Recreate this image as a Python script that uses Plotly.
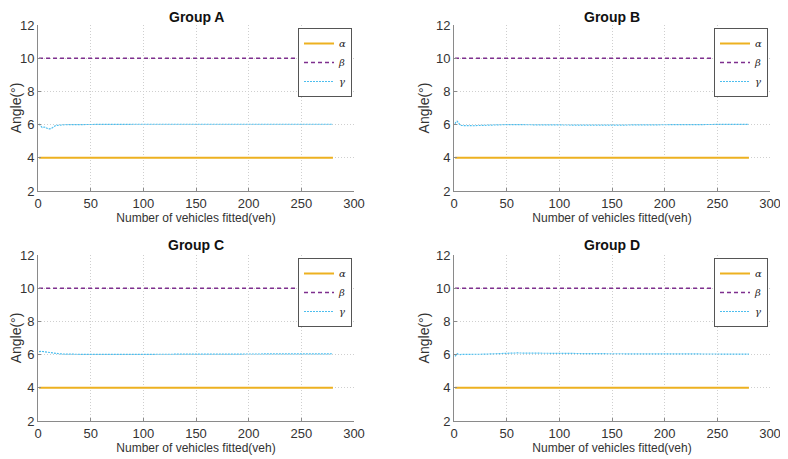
import plotly.graph_objects as go

# ---------------- data ----------------
groups = ["Group A", "Group B", "Group C", "Group D"]
x_const = [1, 280]
alpha_vals = [4, 4]
beta_vals = [10, 10]

x_gamma = [1, 2, 3, 4, 5, 6, 7, 8, 9, 10, 11, 12, 13, 14, 15, 16, 18, 20, 25, 30,
           40, 50, 60, 70, 80, 90, 100, 110, 120, 130, 140, 150, 160, 170, 180,
           190, 200, 210, 220, 230, 240, 250, 260, 270, 280]

gamma_A = [6.05, 5.95, 5.85, 5.82, 5.84, 5.86, 5.85, 5.80, 5.76, 5.74, 5.74, 5.75, 5.78, 5.82, 5.88, 5.92,
           5.95, 5.97, 5.99, 6.00, 6.01, 6.02, 6.02, 6.02, 6.02, 6.02, 6.02, 6.02, 6.03, 6.03,
           6.04, 6.04, 6.04, 6.03, 6.03, 6.04, 6.04, 6.04, 6.04, 6.03, 6.03, 6.03, 6.02, 6.02, 6.02]
gamma_B = [6.05, 6.18, 6.20, 6.12, 6.00, 5.96, 5.95, 5.94, 5.95, 5.94, 5.93, 5.93, 5.94, 5.93, 5.94, 5.94,
           5.93, 5.94, 5.96, 5.97, 5.98, 6.00, 5.99, 5.98, 5.98, 5.98, 5.98, 5.97, 5.97, 5.97,
           5.96, 5.96, 5.97, 5.98, 5.98, 5.99, 6.00, 6.00, 6.01, 6.01, 6.01, 6.01, 6.02, 6.02, 6.02]
gamma_C = [6.18, 6.20, 6.20, 6.19, 6.18, 6.17, 6.16, 6.15, 6.14, 6.13, 6.12, 6.11, 6.10, 6.09, 6.08, 6.07,
           6.06, 6.05, 6.03, 6.02, 6.01, 6.01, 6.01, 6.01, 6.01, 6.01, 6.01, 6.01, 6.01, 6.02,
           6.02, 6.02, 6.02, 6.02, 6.02, 6.03, 6.03, 6.03, 6.04, 6.04, 6.04, 6.05, 6.05, 6.05, 6.05]
gamma_D = [5.90, 6.00, 6.06, 6.02, 6.00, 6.00, 6.01, 6.00, 6.00, 6.00, 6.01, 6.01, 6.00, 6.00, 6.01, 6.01,
           6.02, 6.01, 6.02, 6.03, 6.06, 6.10, 6.10, 6.09, 6.08, 6.07, 6.07, 6.06, 6.06, 6.05,
           6.05, 6.05, 6.05, 6.05, 6.04, 6.04, 6.04, 6.05, 6.05, 6.05, 6.04, 6.04, 6.04, 6.03, 6.03]
gammas = [gamma_A, gamma_B, gamma_C, gamma_D]

x_ticks = [0, 50, 100, 150, 200, 250, 300]
y_ticks = [2, 4, 6, 8, 10, 12]
x_label = "Number of vehicles fitted(veh)"
y_label = "Angle(°)"
names = ["<i>α</i>", "<i>β</i>", "<i>γ</i>"]

# ---------------- layout geometry ----------------
# page body has an 8px margin, so the figure is 8px smaller and offset
OFF = 8
W, H = 788 - OFF, 459 - OFF
col_px = [(38 - OFF, 354 - OFF), (454 - OFF, 770 - OFF)]
row_px = [(25 - OFF, 191 - OFF), (255 - OFF, 421 - OFF)]

c_alpha = "#EDB120"
c_beta = "#7E2F8E"
c_gamma = "#4DBEEE"
font_family = "Liberation Sans, Arial, sans-serif"

fig = go.Figure()
layout = dict(
    width=W, height=H, margin=dict(l=0, r=0, t=0, b=0, autoexpand=False),
    paper_bgcolor="white", plot_bgcolor="white",
    font=dict(family=font_family, size=12, color="#262626"),
    annotations=[],
)

for i, g in enumerate(groups):
    r, c = divmod(i, 2)
    x0, x1 = col_px[c]
    yt, yb = row_px[r]
    xd = [x0 / W, x1 / W]
    yd = [1 - yb / H, 1 - yt / H]
    sfx = "" if i == 0 else str(i + 1)
    xa, ya = "x" + sfx, "y" + sfx
    leg = "legend" + sfx
    fig.add_trace(go.Scatter(x=x_const, y=alpha_vals, mode="lines", name=names[0],
                             line=dict(color=c_alpha, width=2), xaxis=xa, yaxis=ya, legend=leg))
    fig.add_trace(go.Scatter(x=x_const, y=beta_vals, mode="lines", name=names[1],
                             line=dict(color=c_beta, width=1.5, dash="4px,3px"), xaxis=xa, yaxis=ya, legend=leg))
    fig.add_trace(go.Scatter(x=x_gamma, y=gammas[i], mode="lines", name=names[2],
                             line=dict(color=c_gamma, width=1.2, dash="2px,1px"), xaxis=xa, yaxis=ya, legend=leg))
    axis_common = dict(showline=True, linecolor="#8a8a8a", linewidth=1, mirror=False,
                       ticks="inside", ticklen=3, tickcolor="#8a8a8a",
                       showgrid=True, gridcolor="#cfcfcf", griddash="1px,2px", gridwidth=1,
                       zeroline=False, automargin=False,
                       tickfont=dict(size=13, color="#333333"))
    layout["xaxis" + sfx] = dict(axis_common, domain=xd, range=[0, 300], tickvals=x_ticks,
                                 anchor=ya,
                                 title=dict(text=x_label, font=dict(size=12, color="#333333"), standoff=2))
    layout["yaxis" + sfx] = dict(axis_common, domain=yd, range=[2, 12], tickvals=y_ticks,
                                 anchor=xa,
                                 title=dict(text=y_label, font=dict(size=14, color="#333333"), standoff=3))
    layout[leg] = dict(x=(x1 - 2) / W, y=1 - (yt + 3) / H, xanchor="right", yanchor="top",
                       bgcolor="white", bordercolor="#555555", borderwidth=1,
                       font=dict(size=10, family="DejaVu Serif, serif", color="#262626"),
                       itemwidth=30, tracegroupgap=0)
    if r == 0:
        title_pos = dict(y=1.0, yanchor="top")
    else:
        title_pos = dict(y=1 - (yt - 10.5) / H, yanchor="middle")
    layout["annotations"].append(dict(text="<b>" + g + "</b>", x=(x0 + x1) / 2 / W,
                                      xref="paper", yref="paper",
                                      showarrow=False, font=dict(size=14, color="#111111"),
                                      xanchor="center", borderpad=0, **title_pos))

fig.update_layout(**layout)
fig.write_html("out.html")
